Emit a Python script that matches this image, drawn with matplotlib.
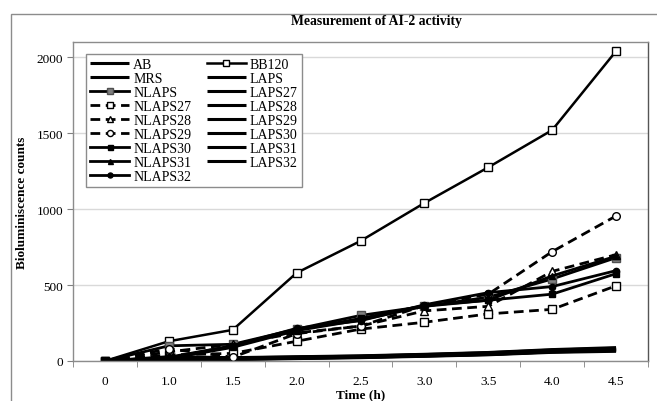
import matplotlib
matplotlib.use("Agg")
import matplotlib.pyplot as plt
from matplotlib.patches import Rectangle

plt.rcParams['font.family'] = ['Liberation Serif', 'DejaVu Serif']

times = ['0', '1.0', '1.5', '2.0', '2.5', '3.0', '3.5', '4.0', '4.5']

# near-zero controls (no markers)
AB     = [0, 12, 15, 22, 28, 38, 48, 68, 78]
MRS    = [0, 8, 12, 18, 24, 33, 43, 60, 68]
LAPS   = [0, 22, 20, 26, 32, 42, 54, 72, 84]
LAPS27 = [0, 10, 14, 20, 26, 35, 45, 62, 71]
LAPS28 = [0, 16, 17, 24, 30, 40, 51, 70, 80]
LAPS29 = [0, 5, 9, 16, 22, 31, 41, 57, 64]
LAPS30 = [0, 28, 22, 28, 34, 44, 56, 75, 88]
LAPS31 = [0, 9, 13, 19, 25, 34, 44, 61, 70]
LAPS32 = [0, 14, 18, 23, 29, 39, 50, 69, 76]

BB120   = [0, 130, 205, 580, 790, 1040, 1275, 1520, 2040]
NLAPS   = [0, 100, 110, 210, 300, 360, 420, 540, 680]
NLAPS27 = [0, 40, 50, 130, 210, 255, 310, 340, 495]
NLAPS28 = [0, 60, 110, 185, 230, 330, 360, 590, 700]
NLAPS29 = [0, 80, 25, 180, 230, 365, 440, 720, 955]
NLAPS30 = [0, 20, 100, 205, 280, 365, 400, 440, 575]
NLAPS31 = [0, 15, 90, 200, 270, 360, 400, 560, 690]
NLAPS32 = [0, 25, 100, 215, 265, 370, 450, 490, 595]

fig = plt.figure(figsize=(6.57, 4.02), dpi=100)
fig.patches.append(Rectangle((11/657, -0.1), 1.2, 1 - 15/402 + 0.1,
                             transform=fig.transFigure, fill=False,
                             edgecolor='#8c8c8c', linewidth=1))
ax = fig.add_axes([73/657, 1 - 362/402, (648 - 73)/657, (362 - 43)/402])
x = list(range(len(times)))

h = {}
plain = [('AB', AB), ('MRS', MRS), ('LAPS', LAPS), ('LAPS27', LAPS27),
         ('LAPS28', LAPS28), ('LAPS29', LAPS29), ('LAPS30', LAPS30),
         ('LAPS31', LAPS31), ('LAPS32', LAPS32)]
for name, vals in plain:
    h[name], = ax.plot(x, vals, color='black', lw=2.2, solid_capstyle='butt')

dash = (0, (3.5, 2))
h['BB120'], = ax.plot(x, BB120, color='black', lw=1.8, marker='s', ms=5.5,
                      mfc='white', mec='black', mew=1)
h['NLAPS'], = ax.plot(x, NLAPS, color='black', lw=2, marker='s', ms=5.5,
                      mfc='#808080', mec='#505050', mew=1)
h['NLAPS27'], = ax.plot(x, NLAPS27, color='black', lw=2, ls=dash,
                        marker='s', ms=5.5, mfc='white', mec='black', mew=1)
h['NLAPS28'], = ax.plot(x, NLAPS28, color='black', lw=2, ls=dash,
                        marker='^', ms=5.5, mfc='white', mec='black', mew=1)
h['NLAPS29'], = ax.plot(x, NLAPS29, color='black', lw=2, ls=dash,
                        marker='o', ms=5.5, mfc='white', mec='black', mew=1)
h['NLAPS30'], = ax.plot(x, NLAPS30, color='black', lw=2, marker='s', ms=4.5)
h['NLAPS31'], = ax.plot(x, NLAPS31, color='black', lw=2, marker='^', ms=4.5)
h['NLAPS32'], = ax.plot(x, NLAPS32, color='black', lw=2, marker='o', ms=4.5)

ax.set_xlim(-0.5, len(times) - 0.5)
ax.set_ylim(0, 2100)
ax.set_xticks(x)
ax.set_xticklabels(times)
ax.set_xticks([i - 0.5 for i in range(len(times) + 1)], minor=True)
ax.tick_params(axis='x', which='major', length=0, pad=10, labelsize=9.5)
ax.tick_params(axis='x', which='minor', length=4, color='#808080', direction='out')
ax.set_yticks([0, 500, 1000, 1500, 2000])
ax.tick_params(axis='y', length=4, color='#808080', labelsize=9.5, pad=3)
ax.yaxis.grid(True, color='#d9d9d9', lw=1)
ax.set_axisbelow(True)
for s in ax.spines.values():
    s.set_color('#8c8c8c')
    s.set_linewidth(1)
ax.spines['right'].set_color('#555555')

ax.set_xlabel('Time (h)', fontsize=9.5, fontweight='bold', labelpad=1)
ax.set_ylabel('Bioluminiscence counts', fontsize=9.5, fontweight='bold', labelpad=6)
fig.text(376/657, 1 - 21/402, 'Measurement of AI-2 activity', ha='center',
         va='center', fontsize=9.8, fontweight='bold')

order = ['AB', 'MRS', 'NLAPS', 'NLAPS27', 'NLAPS28', 'NLAPS29', 'NLAPS30',
         'NLAPS31', 'NLAPS32', 'BB120', 'LAPS', 'LAPS27', 'LAPS28', 'LAPS29',
         'LAPS30', 'LAPS31', 'LAPS32']
leg = ax.legend([h[n] for n in order], order, ncol=2, loc='upper left',
                bbox_to_anchor=(86/657, 1 - 55/402), bbox_transform=fig.transFigure,
                fontsize=10, frameon=True, fancybox=False, framealpha=1,
                edgecolor='#8c8c8c', handlelength=2.8, handletextpad=0.3,
                labelspacing=0.07, columnspacing=1.1, borderpad=0.3,
                borderaxespad=0, markerscale=0.8)
leg.get_frame().set_linewidth(1)

fig.savefig('out.png', dpi=100)
